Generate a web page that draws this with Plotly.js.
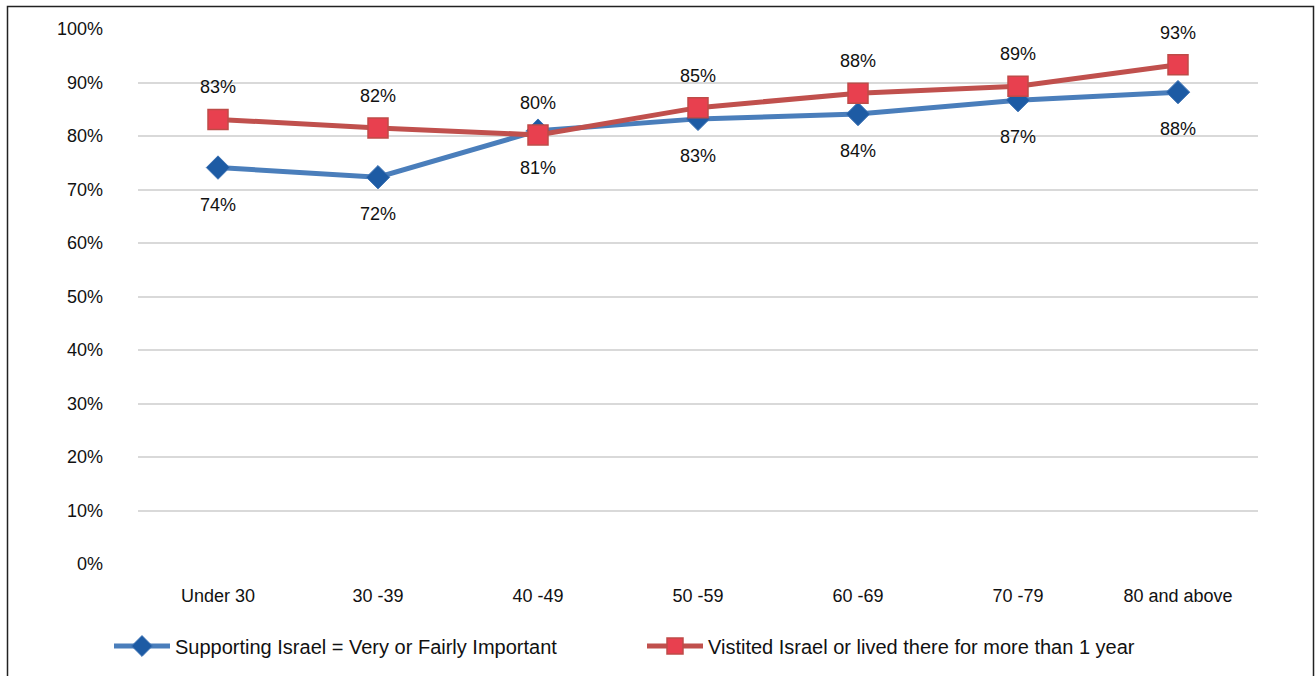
<!DOCTYPE html>
<html>
<head>
<meta charset="utf-8">
<script src="https://cdn.plot.ly/plotly-3.0.1.min.js"></script>
<style>
html,body{margin:0;padding:0;background:#fff;}
#chart{width:1315px;height:676px;}
</style>
</head>
<body>
<div id="chart"></div>
<script>
const categories = ["Under 30", "30 -39", "40 -49", "50 -59", "60 -69", "70 -79", "80 and above"];
const supportValues = [74.1, 72.3, 81.0, 83.2, 84.1, 86.7, 88.2];
const supportLabels = ["74%", "72%", "81%", "83%", "84%", "87%", "88%"];
const visitedValues = [83.1, 81.5, 80.2, 85.3, 88.0, 89.3, 93.3];
const visitedLabels = ["83%", "82%", "80%", "85%", "88%", "89%", "93%"];
const yTickVals = [0, 10, 20, 30, 40, 50, 60, 70, 80, 90, 100];
const yTickText = ["0%", "10%", "20%", "30%", "40%", "50%", "60%", "70%", "80%", "90%", "100%"];

const FONT = "Liberation Sans, Arial, sans-serif";

const traces = [
  {
    x: categories, y: supportValues, type: "scatter", mode: "lines+markers",
    name: "Supporting Israel = Very or Fairly Important",
    line: {color: "#4a7ebb", width: 5},
    marker: {symbol: "diamond", size: 18, color: "#1d5ba4", line: {color: "#3f74b5", width: 1}}
  },
  {
    x: categories, y: visitedValues, type: "scatter", mode: "lines+markers",
    name: "Vistited Israel or lived there for more than 1 year",
    line: {color: "#c0504d", width: 5},
    marker: {symbol: "square", size: 20, color: "#e8404f", line: {color: "#be4b48", width: 1.5}}
  }
];

const annotations = [];
categories.forEach((c, i) => {
  annotations.push({x: c, y: visitedValues[i], text: visitedLabels[i], showarrow: false,
    yshift: 32, font: {family: FONT, size: 18, color: "#111"}});
  annotations.push({x: c, y: supportValues[i], text: supportLabels[i], showarrow: false,
    yshift: -37, font: {family: FONT, size: 18, color: "#111"}});
});

const L = 138, R = 1258, T = 29, B = 565;
const px = v => (v - L) / (R - L);
const py = v => (B - v) / (B - T);

const layout = {
  width: 1315, height: 676,
  margin: {l: L, r: 1315 - R, t: T, b: 676 - B},
  paper_bgcolor: "#fff", plot_bgcolor: "#fff",
  font: {family: FONT, size: 18, color: "#111"},
  showlegend: true,
  legend: {
    orientation: "h", x: px(109), xanchor: "left", y: py(646), yanchor: "middle",
    entrywidth: 462, entrywidthmode: "pixels", itemwidth: 56,
    font: {family: FONT, size: 20, color: "#111"}, bgcolor: "rgba(0,0,0,0)"
  },
  xaxis: {
    type: "category", range: [-0.5, 6.5], showgrid: false, zeroline: false,
    showline: false, ticks: "", tickfont: {family: FONT, size: 18, color: "#111"},
    ticklabelstandoff: 19, fixedrange: true
  },
  yaxis: {
    range: [0, 100], tickvals: yTickVals, ticktext: yTickText,
    showgrid: true, gridcolor: "#d9d9d9", gridwidth: 2, zeroline: false,
    showline: false, ticks: "", tickfont: {family: FONT, size: 18, color: "#111"},
    ticklabelstandoff: 34, fixedrange: true
  },
  annotations: annotations,
  shapes: [{
    type: "rect", xref: "paper", yref: "paper",
    x0: px(7.5), x1: px(1313.5), y0: py(720), y1: py(6.5),
    line: {color: "#222", width: 1.5}, fillcolor: "rgba(0,0,0,0)", layer: "above"
  }]
};

Plotly.newPlot("chart", traces, layout, {displayModeBar: false, staticPlot: true});
</script>
</body>
</html>
